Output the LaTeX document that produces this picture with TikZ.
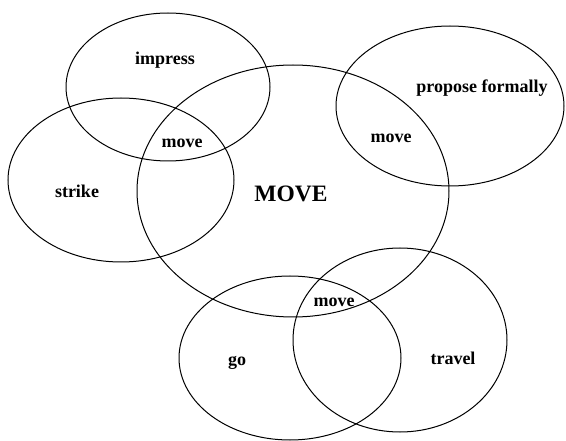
\documentclass[tikz,border=0pt]{standalone}
\usepackage{fontspec}
\setmainfont{Liberation Serif}
\begin{document}
\begin{tikzpicture}[x=1pt,y=-1pt,
  ring/.style={draw=black,line width=1pt},
  lbl/.style={font=\fontsize{18}{20}\selectfont\bfseries,inner sep=0pt},
  big/.style={font=\fontsize{23.5}{28}\selectfont\bfseries,inner sep=0pt}]
\useasboundingbox[fill=white] (0,0) rectangle (566,441);
\draw[ring] (293,191) ellipse [x radius=156,y radius=126];
\draw[ring] (168,87) ellipse [x radius=102,y radius=74];
\draw[ring] (121,180) ellipse [x radius=113,y radius=82];
\draw[ring] (450,106) ellipse [x radius=114,y radius=80];
\draw[ring] (290,358) ellipse [x radius=111,y radius=82];
\draw[ring] (400,340) ellipse [x radius=107,y radius=92];
\node[lbl] (impress) at (165,60) {impress};
\node[lbl] (propose) at (482,88) {propose formally};
\node[lbl] (move1) at (182,143) {move};
\node[lbl] (move2) at (391,138) {move};
\node[lbl] (strike) at (77,191) {strike};
\node[big] (MOVE) at (291,194) {MOVE};
\node[lbl] (move3) at (334,302) {move};
\node[lbl] (go) at (237,363) {go};
\node[lbl] (travel) at (453,358) {travel};
\end{tikzpicture}
\end{document}
